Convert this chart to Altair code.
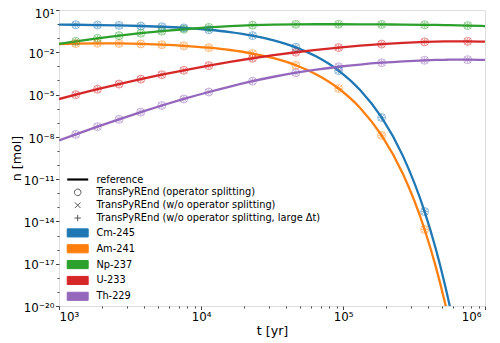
import math
import altair as alt
import pandas as pd

# ---------------- data ----------------
t_years = [1000, 1312, 1866, 2648, 3767, 5298, 7568, 11350, 16000, 23070, 32500, 46550,
           65000, 93100, 132000, 187100, 265000, 375600, 450000, 520000, 540000, 565000,
           755000, 1000000]
t_markers = [1312, 1866, 2648, 3767, 5298, 7568, 11350, 23070, 46550, 93100, 187100,
             375600, 755000]

nuclides = ["Cm-245", "Am-241", "Np-237", "U-233", "Th-229"]
colors = ["#1f77b4", "#ff7f0e", "#2ca02c", "#d62728", "#9467bd"]

n_cm245 = [0.9217, 0.8985, 0.8588, 0.8058, 0.7355, 0.6492, 0.5395, 0.3963, 0.2712, 0.1524,
           0.07063, 0.02246, 4.989e-3, 5.045e-4, 2.114e-5, 2.365e-7, 4.120e-10, 4.989e-14,
           1.156e-16, 3.837e-19, 7.511e-20, 9.78e-21, 1.82e-27, 3.85e-36]
n_am241 = [0.03860, 0.04160, 0.04332, 0.04240, 0.03928, 0.03477, 0.02890, 0.02123, 0.01453,
           8.164e-3, 3.784e-3, 1.203e-3, 2.673e-4, 2.703e-5, 1.1325e-6, 1.267e-8, 2.207e-11,
           2.673e-15, 6.193e-18, 2.056e-20, 4.024e-21, 5.24e-22, 9.75e-29, 2.06e-37]
n_np237 = [0.03971, 0.05986, 0.09781, 0.1518, 0.2251, 0.3158, 0.4311, 0.5813, 0.7121, 0.8355,
           0.9190, 0.9654, 0.9780, 0.9739, 0.9622, 0.9452, 0.9217, 0.8894, 0.8682, 0.8488,
           0.8433, 0.8365, 0.7867, 0.7268]
n_u233 = [4.827e-6, 9.835e-6, 2.394e-5, 5.552e-5, 1.2389e-4, 2.562e-4, 5.281e-4, 1.1380e-3,
          2.0846e-3, 3.7774e-3, 6.263e-3, 1.0065e-2, 1.4871e-2, 2.1511e-2, 2.9358e-2,
          3.8196e-2, 4.7132e-2, 5.4778e-2, 5.7664e-2, 5.9253e-2, 5.9550e-2, 5.9841e-2,
          5.9928e-2, 5.7204e-2]
n_th229 = [5.534e-9, 1.491e-8, 5.275e-8, 1.764e-7, 5.662e-7, 1.675e-6, 4.897e-6, 1.5244e-5,
           3.7263e-5, 8.897e-5, 1.8383e-4, 3.5494e-4, 5.9384e-4, 9.389e-4, 1.3521e-3,
           1.8188e-3, 2.2920e-3, 2.6992e-3, 2.8546e-3, 2.9417e-3, 2.9584e-3, 2.9749e-3,
           2.9892e-3, 2.8580e-3]

x_major = [1e3, 1e4, 1e5, 1e6]
x_major_labels = ["10³", "10⁴", "10⁵", "10⁶"]
y_major = [1e1, 1e-2, 1e-5, 1e-8, 1e-11, 1e-14, 1e-17, 1e-20]
y_major_labels = ["10¹", "10⁻²", "10⁻⁵", "10⁻⁸", "10⁻¹¹", "10⁻¹⁴", "10⁻¹⁷", "10⁻²⁰"]

legend_entries = ["reference", "TransPyREnd (operator splitting)",
                  "TransPyREnd (w/o operator splitting)",
                  "TransPyREnd (w/o operator splitting, large Δt)"] + nuclides

# ---------------- tables ----------------
series = [n_cm245, n_am241, n_np237, n_u233, n_th229]
rows = []
for name, vals in zip(nuclides, series):
    for t, v in zip(t_years, vals):
        rows.append({"t": t, "n": v, "nuclide": name})
df = pd.DataFrame(rows)
legend_df = pd.DataFrame({"entry": legend_entries})

x_minor = [k * 10 ** e for e in (3, 4, 5) for k in range(2, 10)]
y_minor = [10.0 ** e for e in range(-20, 2) if e % 3 != 1]


def label_expr(values, labels):
    parts = []
    for v, lab in zip(values, labels):
        parts.append(f"abs(log(datum.value)/LN10 - ({math.log10(v):.0f})) < 0.01 ? '{lab}'")
    return " : ".join(parts) + " : ''"


FONT = "DejaVu Sans"
AX = "#444444"

xs = alt.Scale(type="log", domain=[1e3, 1e6], nice=False)
ys = alt.Scale(type="log", domain=[1e-20, 1e1], nice=False)
cs = alt.Scale(domain=nuclides, range=colors)

x_axis_major = alt.Axis(values=x_major, labelExpr=label_expr(x_major, x_major_labels),
                        orient="bottom", grid=False, domain=False, tickSize=3.5,
                        tickColor=AX, labelPadding=1.5, labelFontSize=11.8,
                        labelColor="black", labelFont=FONT,
                        labelOffset={"condition": {"test": "datum.value > 5e5", "value": -4},
                                     "value": 0},
                        title="t [yr]",
                        titleFontSize=12.7, titleFontWeight="normal", titleFont=FONT,
                        titleColor="black", titleY=24, titleBaseline="middle")
y_axis_major = alt.Axis(values=y_major, labelExpr=label_expr(y_major, y_major_labels),
                        orient="left", grid=False, domain=False, tickSize=3.5,
                        tickColor=AX, labelPadding=1.5, labelFontSize=11.8,
                        labelColor="black", labelFont=FONT,
                        labelOffset={"condition": {"test": "datum.value > 1", "value": 3.5},
                                     "value": 1.2},
                        title="n [mol]", titleFontSize=12.7, titleFontWeight="normal",
                        titleFont=FONT, titleColor="black", titleX=-42.5,
                        titleY=148, titleBaseline="middle", titleAngle=270)
x_axis_minor = alt.Axis(values=x_minor, labels=False, orient="bottom", grid=False,
                        domain=False, tickSize=2, tickColor=AX, title="")
y_axis_minor = alt.Axis(values=y_minor, labels=False, orient="left", grid=False,
                        domain=False, tickSize=2, tickColor=AX, title="")

base = alt.Chart(df)

lines = base.mark_line(strokeWidth=2.3, clip=True, interpolate="monotone").encode(
    x=alt.X("t:Q", scale=xs, axis=x_axis_major),
    y=alt.Y("n:Q", scale=ys, axis=y_axis_major),
    color=alt.Color("nuclide:N", scale=cs, legend=None),
)

mk = base.transform_filter(alt.FieldOneOfPredicate(field="t", oneOf=t_markers)).transform_filter(
    "datum.n >= 1e-20")

circles = mk.mark_point(shape="circle", size=64, strokeWidth=1, opacity=0.5,
                        filled=False, clip=True).encode(
    x=alt.X("t:Q", scale=xs, axis=x_axis_minor),
    y=alt.Y("n:Q", scale=ys, axis=y_axis_minor),
    color=alt.Color("nuclide:N", scale=cs, legend=None),
)
crosses = mk.mark_point(shape="M-1,-1L1,1M-1,1L1,-1", size=36, strokeWidth=1, opacity=0.5,
                        filled=False, clip=True).encode(
    x=alt.X("t:Q", scale=xs, axis=None),
    y=alt.Y("n:Q", scale=ys, axis=None),
    color=alt.Color("nuclide:N", scale=cs, legend=None),
)
pluses = mk.mark_point(shape="M-1,0L1,0M0,-1L0,1", size=49, strokeWidth=1, opacity=0.5,
                       filled=False, clip=True).encode(
    x=alt.X("t:Q", scale=xs, axis=None),
    y=alt.Y("n:Q", scale=ys, axis=None),
    color=alt.Color("nuclide:N", scale=cs, legend=None),
)

line_path = "M-2.33,-0.24H2.33V0.24H-2.33Z"
circ_path = "M0.73,0A0.73,0.73,0,1,1,-0.73,0A0.73,0.73,0,1,1,0.73,0Z"
x_path = "M-0.62,-0.62L0.62,0.62M-0.62,0.62L0.62,-0.62"
plus_path = "M-0.7,0H0.7M0,-0.7V0.7"
rect_path = "M-2.33,-0.9H2.33V0.9H-2.33Z"

entry_fill = ["#000000", "transparent", "transparent", "transparent"] + colors
entry_stroke = ["transparent", "#555555", "#555555", "#555555"] + colors
entry_shape = [line_path, circ_path, x_path, plus_path] + [rect_path] * 5

leg = alt.Legend(title=None, orient="none", legendX=13.7, legendY=164.5, symbolSize=81,
                 symbolStrokeWidth=1, labelFontSize=9.8, labelFont=FONT, labelColor="black",
                 labelOffset=13.7, rowPadding=1.85, padding=0, labelLimit=400)

legend_layer = alt.Chart(legend_df).transform_filter("false").mark_point(
    filled=True, opacity=1).encode(
    fill=alt.Fill("entry:N", scale=alt.Scale(domain=legend_entries, range=entry_fill), legend=leg),
    stroke=alt.Stroke("entry:N", scale=alt.Scale(domain=legend_entries, range=entry_stroke), legend=leg),
    shape=alt.Shape("entry:N", scale=alt.Scale(domain=legend_entries, range=entry_shape), legend=leg),
)

chart = alt.layer(lines, circles, crosses, pluses, legend_layer).resolve_axis(
    x="independent", y="independent"
).properties(
    width=426, height=296,
    autosize=alt.AutoSizeParams(type="none"),
    padding={"left": 51, "top": 2, "right": 7, "bottom": 36},
).configure_view(stroke="#555555", strokeWidth=1).configure(font=FONT)

chart.save("out.html", embed_options={"renderer": "svg", "actions": False})
